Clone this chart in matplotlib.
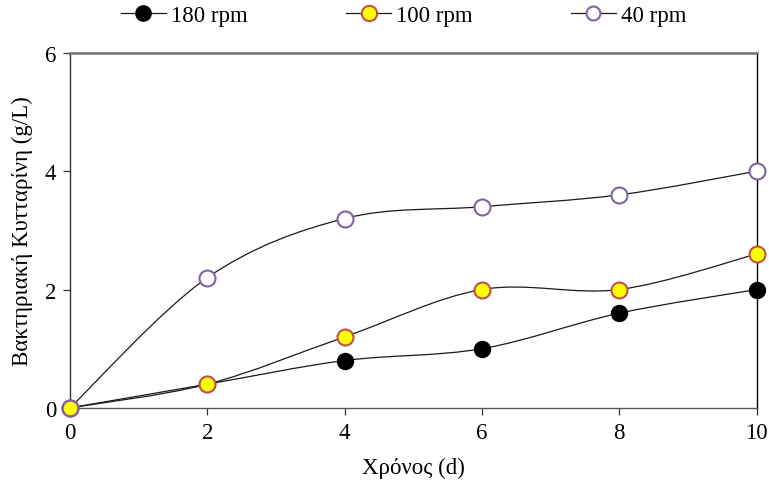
import matplotlib
matplotlib.use('Agg')
import matplotlib.pyplot as plt
from matplotlib.path import Path
from matplotlib.patches import PathPatch
from matplotlib.lines import Line2D
import numpy as np

plt.rcParams['font.family'] = ['Liberation Serif', 'DejaVu Serif']

# cultivation time (days) and bacterial cellulose (g/L)
days = [0, 2, 4, 6, 8, 10]
bc_180 = [0, 0.4, 0.8, 1.0, 1.6, 2.0]
bc_100 = [0, 0.4, 1.2, 2.0, 2.0, 2.6]
bc_40 = [0, 2.2, 3.2, 3.4, 3.6, 4.0]
labels = ['180 rpm', '100 rpm', '40 rpm']


def smooth_path(x, y):
    """Catmull-Rom style cubic Bezier through the points (spreadsheet 'smoothed line')."""
    pts = np.column_stack([x, y]).astype(float)
    n = len(pts)
    verts = [pts[0]]
    codes = [Path.MOVETO]
    for i in range(n - 1):
        p0 = pts[max(i - 1, 0)]
        p1 = pts[i]
        p2 = pts[i + 1]
        p3 = pts[min(i + 2, n - 1)]
        c1 = p1 + (p2 - p0) / 6.0
        c2 = p2 - (p3 - p1) / 6.0
        verts += [c1, c2, p2]
        codes += [Path.CURVE4] * 3
    return Path(verts, codes)


fig = plt.figure(figsize=(7.69, 4.85), dpi=100)
ax = fig.add_axes([0.091, 0.157, 0.893, 0.732])

line_kw = dict(fill=False, edgecolor='#1a1a1a', lw=0.9, zorder=2)
for ys in (bc_180, bc_100, bc_40):
    ax.add_patch(PathPatch(smooth_path(days, ys), **line_kw))

ms = 11.5
mk = dict(ls='none', marker='o', ms=ms, clip_on=False)
# white backing for hollow markers so the curve does not show inside them
ax.plot(days, bc_40, mfc='white', mec='none', zorder=3, **mk)
ax.plot(days, bc_180, mfc='black', mec='black', zorder=4, **mk)
ax.plot(days, bc_100, mfc='#FFFF00', mec='#C0504D', mew=1.5, zorder=4, **mk)
ax.plot(days, bc_40, mfc='none', mec='#8064A2', mew=1.5, zorder=5, **mk)

ax.set_xlim(0, 10)
ax.set_ylim(0, 6)
ax.set_xticks([0, 2, 4, 6, 8, 10])
ax.set_yticks([0, 2, 4, 6])
ax.tick_params(direction='out', length=5, width=0.9, labelsize=16.5, pad=5, color='#333333')

ax.spines['top'].set_color('#707070')
ax.spines['top'].set_linewidth(1.8)
ax.spines['right'].set_color('black')
ax.spines['right'].set_linewidth(1.0)
ax.spines['bottom'].set_color('#555555')
ax.spines['bottom'].set_linewidth(1.0)
ax.spines['left'].set_color('#333333')
ax.spines['left'].set_linewidth(1.0)

ax.set_xlabel('Χρόνος (d)', fontsize=16.5, labelpad=10)
ax.set_ylabel('Βακτηριακή Κυτταρίνη (g/L)', fontsize=16.5, labelpad=8)

leg_ms = 11
handles = [
    Line2D([], [], color='#1a1a1a', lw=0.9, marker='o', ms=leg_ms, mfc='black', mec='black'),
    Line2D([], [], color='#1a1a1a', lw=0.9, marker='o', ms=leg_ms, mfc='#FFFF00', mec='#C0504D', mew=1.5),
    Line2D([], [], color='#1a1a1a', lw=0.9, marker='o', ms=leg_ms - 1, mfc='white', mec='#8064A2', mew=1.5),
]
fig.legend(handles, labels, loc='center', bbox_to_anchor=(0.525, 0.965), ncol=3,
           frameon=False, fontsize=16.5, handlelength=1.97, handletextpad=0.22,
           columnspacing=4.28)

fig.savefig('out.png', dpi=100)
